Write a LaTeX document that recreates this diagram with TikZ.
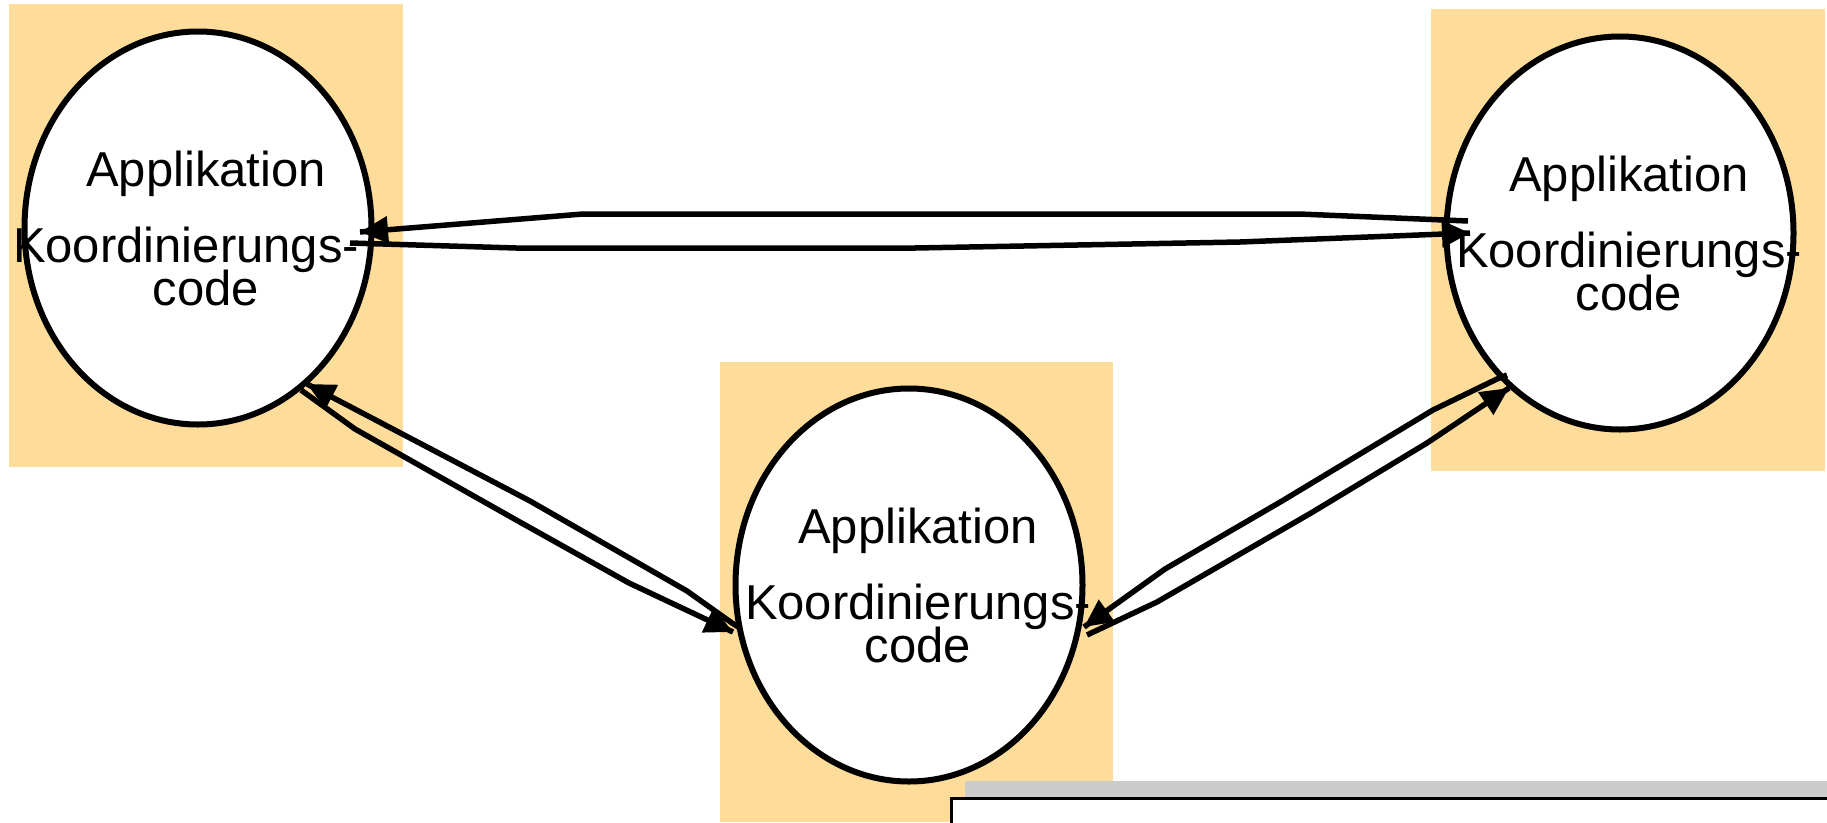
\documentclass[tikz,border=0pt]{standalone}
\usepackage{fontspec}
\setmainfont{Liberation Sans}
\usetikzlibrary{arrows.meta}
\usetikzlibrary{decorations.markings}
\usetikzlibrary{shapes.geometric}
\definecolor{peach}{RGB}{254,220,154}
\definecolor{shade}{RGB}{204,204,204}
\tikzset{arr/.style = {decoration={markings,
                                   mark=at position 1 with {\arrow{Triangle[length=28pt,width=26pt]}}},
                       postaction={decorate}}}
\tikzset{proc/.style = {draw, ellipse, line width=6pt, fill=white, inner sep=0,
                        minimum width=347pt, minimum height=393pt}}
\tikzset{apptxt/.style = {align=center, inner sep=0, font=\fontsize{49}{40}\selectfont,
                          execute at begin node={\lineskiplimit=-60pt\relax}}}

\begin{document}
\begin{tikzpicture}[x=1pt, y=-1pt, line width=5.5pt]
    \useasboundingbox (0, 0) rectangle (1827, 822);
    \path [fill=peach] (9, 4) rectangle (403, 467);
    \path [fill=peach] (720, 362) rectangle (1113, 822);
    \path [fill=peach] (1431, 9) rectangle (1825, 471);
    \path [fill=shade] (965, 781) rectangle (1827, 797);
    \draw [line width=3pt, fill=white] (951.5, 798.5) rectangle (1840, 840);

    \node [proc] (left) at (198, 228) {};
    \node [proc] (mid) at (909, 585) {};
    \node [proc] (right) at (1620, 233) {};
    \node [apptxt] (lefttxt) at ([shift={(8, 0)}]left.center)
        {Applikation\\[36pt]Koordinierungs-\rule{40pt}{0pt}\\[3pt]code};
    \node [apptxt] (midtxt) at ([shift={(9, 0)}]mid.center) {Applikation\\[36pt]Koordinierungs-\\[3pt]code};
    \node [apptxt] (righttxt) at ([shift={(9, 0)}]right.center) {Applikation\\[36pt]Koordinierungs-\\[3pt]code};

    \draw [arr] ([shift={(-152, -12)}]right.center) -- (1299, 214) -- (583, 214) -- ([shift={(162, 4)}]left.center);
    \draw [arr] ([shift={(152, 15)}]left.center) -- (516, 248) -- (915, 248) -- (1240, 242) -- ([shift={(-150, 0)}]right.center);
    \draw [arr] ([shift={(-169, 43)}]mid.center) -- (732, 623) -- (687, 591) -- (530, 501) -- ([shift={(109, 156)}]left.center);
    \draw [arr] ([shift={(103, 162)}]left.center) -- (355, 429) -- (518, 521) -- (629, 583) -- ([shift={(-176, 47)}]mid.center);
    \draw [arr] ([shift={(-113, 142)}]right.center) -- (1497, 379) -- (1433, 410) -- (1282, 501) -- (1165, 569) -- ([shift={(175, 42)}]mid.center);
    \draw [arr] ([shift={(178, 50)}]mid.center) -- (1157, 602) -- (1311, 513) -- (1427, 443) -- ([shift={(-111, 155)}]right.center);
\end{tikzpicture}
\end{document}
